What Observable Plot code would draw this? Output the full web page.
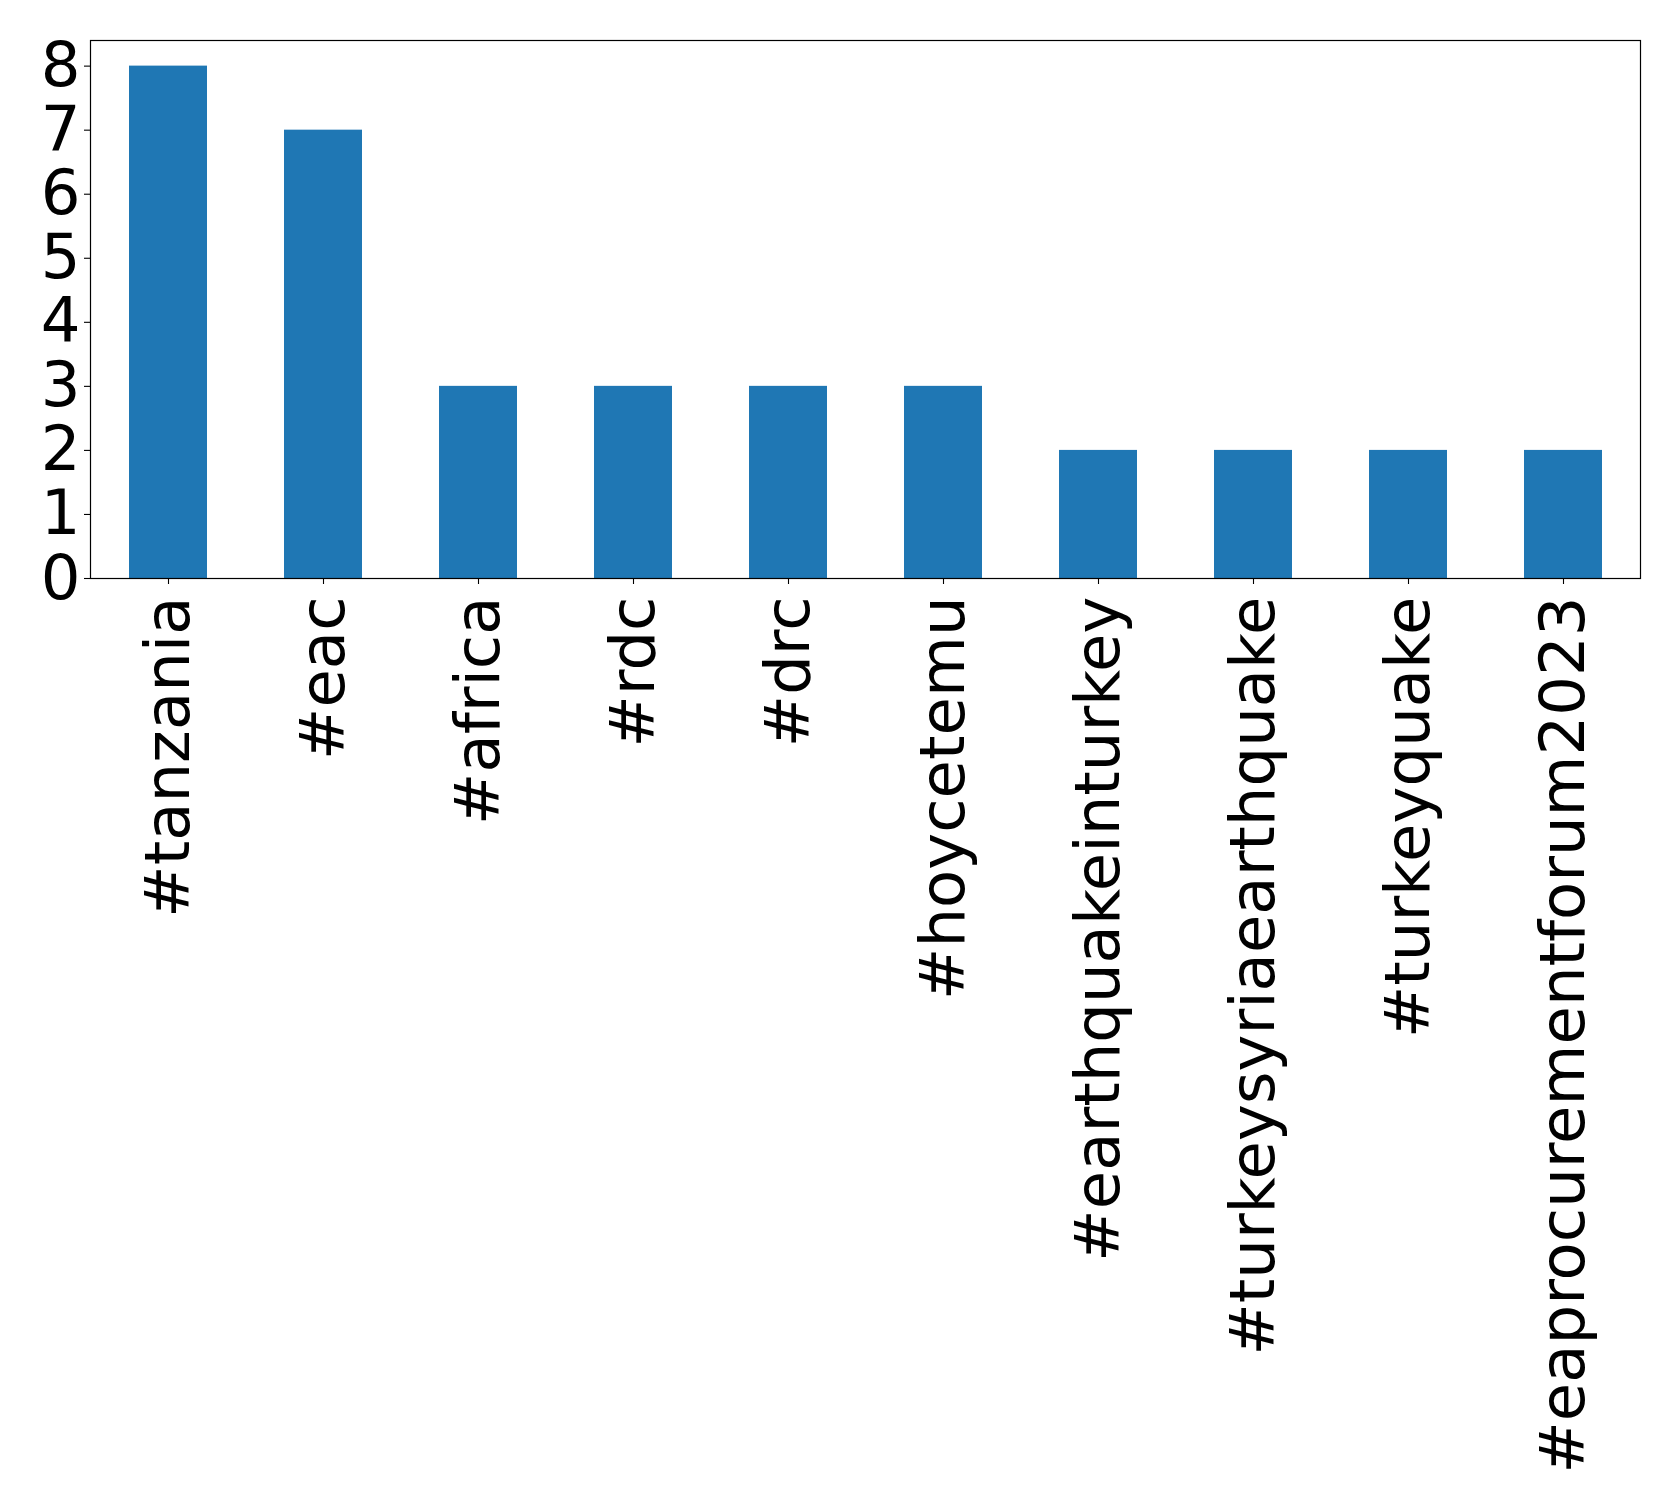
<!DOCTYPE html>
<html>
<head>
<meta charset="utf-8">
<script src="https://cdn.jsdelivr.net/npm/d3@7"></script>
<script src="https://cdn.jsdelivr.net/npm/@observablehq/plot@0.6"></script>
<style>
  html, body { margin: 0; padding: 0; background: #fff; }
  #chart svg { display: block; }
</style>
</head>
<body>
<div id="chart"></div>
<script>
const hashtags = ["#tanzania", "#eac", "#africa", "#rdc", "#drc", "#hoycetemu", "#earthquakeinturkey", "#turkeysyriaearthquake", "#turkeyquake", "#eaprocurementforum2023"];
const counts = [8, 7, 3, 3, 3, 3, 2, 2, 2, 2];
const yTicks = [0, 1, 2, 3, 4, 5, 6, 7, 8];

const data = hashtags.map((h, i) => ({tag: h, count: counts[i]}));

const chart = Plot.plot({
  width: 1679,
  height: 1505,
  marginLeft: 90,
  marginRight: 39,
  marginTop: 40,
  marginBottom: 927,
  style: {fontFamily: "DejaVu Sans", background: "#fff", color: "#000"},
  x: {type: "band", domain: hashtags, paddingInner: 0.5, paddingOuter: 0.25},
  y: {domain: [0, 8.4]},
  marks: [
    Plot.barY(data, {x: "tag", y: "count", fill: "#1f77b4"}),
    Plot.frame({stroke: "#000", strokeWidth: 1.2}),
    Plot.axisY({ticks: yTicks, tickSize: 6, tickPadding: 4, fontSize: 62.5, label: null, tickFormat: d => String(d), stroke: "#000", strokeWidth: 1.1}),
    Plot.axisX({tickSize: 6, tickPadding: 12, tickRotate: -90, fontSize: 62.5, label: null, stroke: "#000", strokeWidth: 1.1})
  ]
});
document.getElementById("chart").appendChild(chart);
</script>
</body>
</html>
